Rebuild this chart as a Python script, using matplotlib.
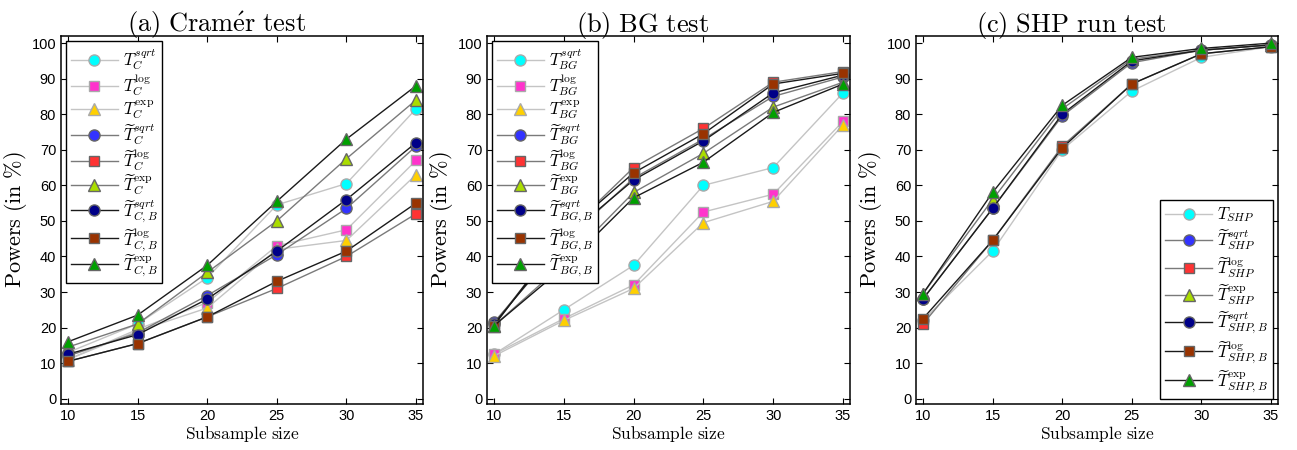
import matplotlib
matplotlib.use('Agg')
import matplotlib.pyplot as plt

plt.rcParams['mathtext.fontset'] = 'cm'
plt.rcParams['font.family'] = ['Liberation Sans', 'DejaVu Sans']

sizes = [10, 15, 20, 25, 30, 35]

# (a) Cramer test
cr_sqrt = [13, 21, 34, 54.5, 60.5, 81.5]
cr_log = [11, 19.5, 27, 43, 47.5, 67]
cr_exp = [11, 19, 25.5, 42, 44.5, 63]
cr_t_sqrt = [12, 18.5, 29, 40.5, 53.5, 71]
cr_t_log = [10.5, 15.5, 23, 31, 40, 52]
cr_t_exp = [14.5, 21, 35.5, 50, 67.5, 84]
cr_b_sqrt = [12.5, 18, 28, 41.5, 56, 72]
cr_b_log = [10.5, 15.5, 23, 33, 41.5, 55]
cr_b_exp = [16, 23.5, 37.5, 55.5, 73, 88]

# (b) BG test
bg_sqrt = [12.5, 25, 37.5, 60, 65, 86]
bg_log = [12.5, 22.5, 32, 52.5, 57.5, 78]
bg_exp = [12, 22, 31, 49.5, 55.5, 77]
bg_t_sqrt = [21.5, 44, 62, 73, 85, 90.5]
bg_t_log = [21, 46, 65, 76, 89, 92]
bg_t_exp = [20.5, 38, 58, 69, 82, 89]
bg_b_sqrt = [21, 45, 61.5, 72.5, 86, 91]
bg_b_log = [20.5, 46.5, 63.5, 74.5, 88.5, 91.5]
bg_b_exp = [20.5, 37, 56.5, 66.5, 80.5, 88.5]

# (c) SHP run test
shp = [22, 41.5, 70, 86.5, 96, 99]
shp_t_sqrt = [28, 53.5, 79.5, 94.5, 98, 99.5]
shp_t_log = [21, 44.5, 71, 88.5, 97, 99]
shp_t_exp = [29.5, 56, 81.5, 95.5, 98, 99.5]
shp_b_sqrt = [28, 53.5, 80, 95, 98, 99.5]
shp_b_log = [22.5, 44.5, 70.5, 88.5, 97, 99]
shp_b_exp = [29.5, 58, 82.5, 96, 98.5, 100]

LIGHT, MID, DARK = '#c4c4c4', '#7a7a7a', '#1a1a1a'
styles = {
    'sqrt': ('o', 8, '#00ffff', LIGHT),
    'log': ('s', 6.5, '#ff33cc', LIGHT),
    'exp': ('^', 9, '#ffd000', LIGHT),
    't_sqrt': ('o', 8, '#3333ff', MID),
    't_log': ('s', 6.5, '#ff3333', MID),
    't_exp': ('^', 9, '#aadd00', MID),
    'b_sqrt': ('o', 8, '#000088', DARK),
    'b_log': ('s', 6.5, '#993300', DARK),
    'b_exp': ('^', 9, '#00a000', DARK),
}


def draw(ax, key, vals, label):
    marker, ms, face, line = styles[key]
    edge = '#aaaaaa' if line == LIGHT else '#666666'
    ax.plot(sizes, vals, color=line, lw=1.0, marker=marker, ms=ms,
            mfc=face, mec=edge, mew=1.0, label=label)


def style_axes(ax, title):
    ax.set_xlim(9.5, 35.5)
    ax.set_ylim(-1.5, 102)
    ax.set_xticks(sizes)
    ax.set_yticks(range(0, 101, 10))
    ax.tick_params(direction='in', top=True, right=True, length=4,
                   labelsize=10.5, width=0.8)
    for s in ax.spines.values():
        s.set_linewidth(1.1)
    ax.set_title(r'$\mathrm{%s}$' % title, fontsize=19, pad=3, x=0.43)
    ax.set_xlabel(r'$\mathrm{Subsample\ size}$', fontsize=12.5, labelpad=1)
    ax.set_ylabel(r'$\mathrm{Powers\ (in\ \%)}$', fontsize=16, labelpad=2)


fig = plt.figure(figsize=(12.97, 4.5), dpi=100)
H = 368 / 450
B = 46 / 450
ax1 = fig.add_axes([61 / 1297, B, 362 / 1297, H])
ax2 = fig.add_axes([487 / 1297, B, 363 / 1297, H])
ax3 = fig.add_axes([916 / 1297, B, 362 / 1297, H])

draw(ax1, 'sqrt', cr_sqrt, r'$T_{C}^{sqrt}$')
draw(ax1, 'log', cr_log, r'$T_{C}^{\log}$')
draw(ax1, 'exp', cr_exp, r'$T_{C}^{\exp}$')
draw(ax1, 't_sqrt', cr_t_sqrt, r'$\widetilde{T}_{C}^{sqrt}$')
draw(ax1, 't_log', cr_t_log, r'$\widetilde{T}_{C}^{\log}$')
draw(ax1, 't_exp', cr_t_exp, r'$\widetilde{T}_{C}^{\exp}$')
draw(ax1, 'b_sqrt', cr_b_sqrt, r'$\widetilde{T}_{C,B}^{sqrt}$')
draw(ax1, 'b_log', cr_b_log, r'$\widetilde{T}_{C,B}^{\log}$')
draw(ax1, 'b_exp', cr_b_exp, r'$\widetilde{T}_{C,B}^{\exp}$')
style_axes(ax1, r'(a)\ Cram\acute{e}r\ test')

draw(ax2, 'sqrt', bg_sqrt, r'$T_{BG}^{sqrt}$')
draw(ax2, 'log', bg_log, r'$T_{BG}^{\log}$')
draw(ax2, 'exp', bg_exp, r'$T_{BG}^{\exp}$')
draw(ax2, 't_sqrt', bg_t_sqrt, r'$\widetilde{T}_{BG}^{sqrt}$')
draw(ax2, 't_log', bg_t_log, r'$\widetilde{T}_{BG}^{\log}$')
draw(ax2, 't_exp', bg_t_exp, r'$\widetilde{T}_{BG}^{\exp}$')
draw(ax2, 'b_sqrt', bg_b_sqrt, r'$\widetilde{T}_{BG,B}^{sqrt}$')
draw(ax2, 'b_log', bg_b_log, r'$\widetilde{T}_{BG,B}^{\log}$')
draw(ax2, 'b_exp', bg_b_exp, r'$\widetilde{T}_{BG,B}^{\exp}$')
style_axes(ax2, r'(b)\ BG\ test')

draw(ax3, 'sqrt', shp, r'$T_{SHP}$')
draw(ax3, 't_sqrt', shp_t_sqrt, r'$\widetilde{T}_{SHP}^{sqrt}$')
draw(ax3, 't_log', shp_t_log, r'$\widetilde{T}_{SHP}^{\log}$')
draw(ax3, 't_exp', shp_t_exp, r'$\widetilde{T}_{SHP}^{\exp}$')
draw(ax3, 'b_sqrt', shp_b_sqrt, r'$\widetilde{T}_{SHP,B}^{sqrt}$')
draw(ax3, 'b_log', shp_b_log, r'$\widetilde{T}_{SHP,B}^{\log}$')
draw(ax3, 'b_exp', shp_b_exp, r'$\widetilde{T}_{SHP,B}^{\exp}$')
style_axes(ax3, r'(c)\ SHP\ run\ test')

leg_kw = dict(numpoints=1, fancybox=False, framealpha=1, edgecolor='black',
              fontsize=12, handlelength=2.8, handletextpad=0.3,
              borderaxespad=0.3, borderpad=0.3)
for ax in (ax1, ax2):
    lg = ax.legend(loc='upper left', labelspacing=0.0, **leg_kw)
    lg.get_frame().set_linewidth(1.0)
lg = ax3.legend(loc='lower right', labelspacing=0.15, **leg_kw)
lg.get_frame().set_linewidth(1.0)

fig.savefig('out.png', dpi=100)
